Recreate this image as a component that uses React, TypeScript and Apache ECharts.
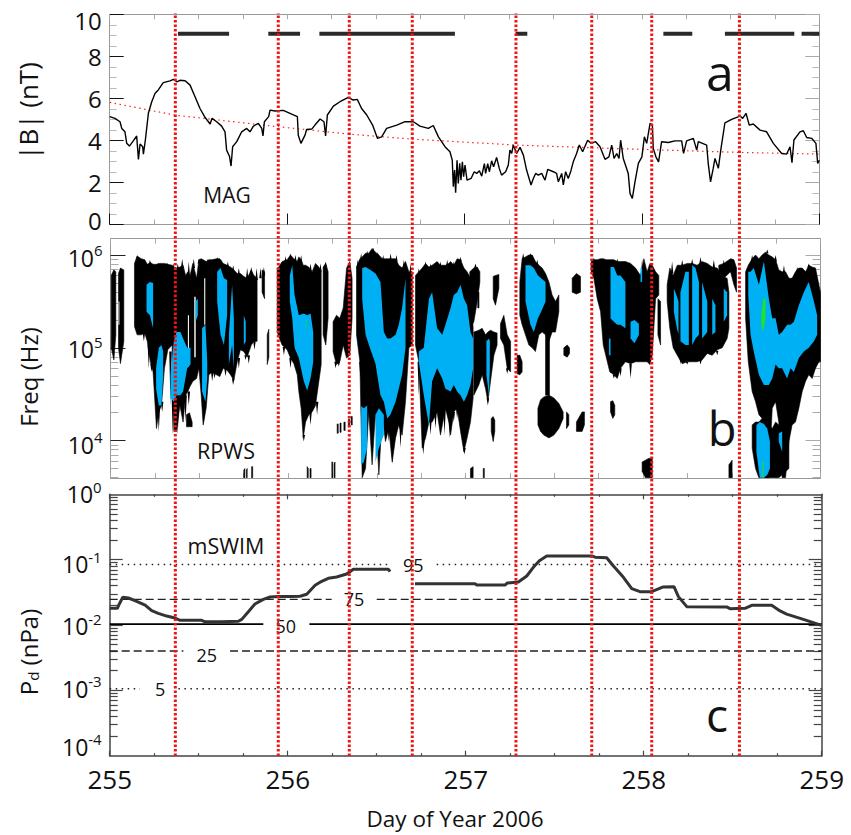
import React, { useEffect, useRef } from "react";
import * as echarts from "echarts";

const FONT = "'Open Sans', 'Noto Sans', sans-serif";

// ---------- panel a: MAG |B| (nT) ----------
const magDays = [255,255.03,255.058,255.068,255.086,255.096,255.111,255.13,255.152,255.162,255.171,255.186,255.19,255.201,255.218,255.237,255.256,255.274,255.302,255.34,255.359,255.378,255.396,255.425,255.453,255.481,255.509,255.537,255.566,255.577,255.603,255.631,255.65,255.659,255.675,255.684,255.693,255.716,255.744,255.772,255.791,255.81,255.838,255.857,255.864,255.872,255.896,255.904,255.932,255.979,256.016,256.058,256.063,256.078,256.101,256.11,256.139,256.157,256.186,256.208,256.217,256.227,256.261,256.298,256.345,256.373,256.396,256.42,256.449,256.482,256.509,256.533,256.561,256.618,256.665,256.712,256.749,256.796,256.824,256.853,
  256.89,256.918,256.931,256.937,256.944,256.95,256.958,256.965,256.973,256.98,256.988,256.995,257.003,257.014,257.037,257.055,257.069,257.084,257.097,257.112,257.119,257.131,257.14,257.153,257.164,257.181,257.196,257.209,257.232,257.247,257.256,257.266,257.275,257.294,257.313,257.332,257.35,257.375,257.388,257.401,257.416,257.435,257.454,257.469,257.501,257.519,257.529,257.548,257.557,257.57,257.585,257.6,257.613,257.632,257.647,257.666,257.694,257.713,257.739,257.764,257.792,257.814,257.83,257.843,257.858,257.871,257.88,257.895,257.923,257.933,257.946,257.961,257.98,258,258.014,
  258.027,258.046,258.059,258.064,258.079,258.094,258.111,258.149,258.186,258.224,258.235,258.252,258.29,258.309,258.318,258.365,258.374,258.387,258.402,258.412,258.431,258.446,258.468,258.506,258.553,258.568,258.587,258.605,258.628,258.666,258.703,258.741,258.788,258.816,258.835,258.846,258.857,258.891,258.91,258.929,258.957,258.981,258.991,259];
const magValues = [5.13,5.05,4.89,4.57,4.41,3.86,3.73,3.94,4.21,3.1,3.83,3.7,3.35,4.02,5.29,5.84,6.24,6.4,6.75,6.83,6.9,6.79,6.86,6.84,6.63,6.08,5.52,5.1,4.78,5.05,4.89,4.68,4.41,3.54,3.25,2.78,3.7,3.94,4.41,4.57,4.41,4.68,4.81,4.57,4.21,4.89,5.13,5.44,5.4,5.43,5.29,5.13,4.25,3.86,4.25,4.52,4.54,4.73,5.02,4.89,4.21,5.21,5.63,5.84,6.05,5.92,5.95,5.52,5.21,4.73,4.1,4.17,4.57,4.73,4.89,4.89,4.68,4.57,4.71,4.17,
  3.7,3.46,3.06,1.8,2.59,1.51,3.06,1.95,2.91,2.11,2.98,2.27,2.83,2.11,2.19,2.51,2.43,2.56,2.3,2.9,2.43,2.9,2.51,3.03,2.75,3.19,2.67,2.35,2.51,2.83,3.54,3.38,3.78,3.38,3.67,3.3,2.59,1.88,2.19,2.43,2.35,2.43,2.11,2.62,2.51,2.43,2.03,2.43,1.88,2.51,2.19,2.56,2.98,3.38,3.78,3.46,4.01,3.86,3.94,3.7,3.1,3.22,3.78,3.14,3.38,3.14,4.01,3.14,2.43,1.48,1.24,2.03,2.91,3.22,4.17,
  3.86,4.81,4.73,3.62,3.22,2.98,3.94,3.9,3.98,3.98,3.38,3.98,4.1,3.54,3.94,3.78,2.9,2.03,2.67,3.14,2.67,3.62,4.84,5,5.16,5.05,5.29,4.73,4.78,4.49,4.41,3.86,3.38,3.35,3.7,2.94,4.02,4.41,4.46,4.14,4.1,3.86,2.9,3.06];
const trendDays = [255,255.37,255.951,256.351,256.706,257.29,257.717,258.055,258.549,259];
const trendValues = [5.81,5.2,4.65,4.3,4.06,3.78,3.65,3.56,3.43,3.35];
const coverageLevel = 9.08;
const coverageSpans = [[255.385,255.673],[255.894,256.073],[256.182,256.946],[257.288,257.354],[258.121,258.284],[258.468,258.859],[258.9,259]];
const magLabels = [0,2,4,6,8,10];

// ---------- panel c: mSWIM Pd (nPa) ----------
const pdDays = [255,255.043,255.054,255.073,255.105,255.142,255.199,255.236,255.273,255.32,255.367,255.395,255.517,255.536,255.629,255.723,255.742,255.779,255.816,255.863,255.901,255.948,256.022,256.069,256.107,256.154,256.191,256.228,256.275,256.331,256.369,256.566,256.575,256.64,256.715,256.743,257.052,257.062,257.221,257.234,257.296,257.343,257.38,257.414,257.455,257.708,257.727,257.792,257.83,257.886,257.933,257.979,258.045,258.11,258.17,258.195,258.242,258.466,258.485,258.569,258.607,258.719,258.766,258.803,258.897,259];
const pdValues = [0.018,0.018,0.021,0.0265,0.0259,0.0236,0.0202,0.0166,0.0151,0.0137,0.0128,0.0118,0.0118,0.0112,0.0112,0.0114,0.0122,0.016,0.021,0.0247,0.0268,0.0272,0.0272,0.0275,0.0295,0.0405,0.0466,0.0518,0.0543,0.0604,0.0711,0.0711,0.0655,null,0.0429,0.0429,0.0429,0.0409,0.0409,0.044,0.0455,0.0562,0.0763,0.0965,0.114,0.114,0.109,0.107,0.08,0.0537,0.036,0.0324,0.0324,0.0382,0.0386,0.0272,0.0191,0.0189,0.0178,0.018,0.02,0.02,0.0164,0.0147,0.0122,0.00988];
const percentileNames = ["95","75","50","25","5"];
const percentileValues = [0.084,0.0247,0.0103,0.004,0.00106];
const percentileGaps = [[256.584,256.837],[256.247,256.5],[255.863,256.122],[255.414,255.676],[255.17,255.386]];
const percentileLabelDays = [256.706,256.373,255.989,255.545,255.283];
const percentileLabelValues = [0.084,0.0247,0.0097,0.0035,0.00106];

// ---------- shared ----------
const eventDays = [255.368,255.948,256.348,256.703,257.287,257.714,258.052,258.546];

// ---------- panel b: RPWS spectrogram outlines, [day, log10 upper Hz, log10 lower Hz] ----------
const blackBands: number[][][] = [
  [[255.004,5.78,5.0],[255.019,5.84,4.87],[255.03,5.82,5.14]],
  [[255.045,5.8,5.0],[255.056,5.86,4.83],[255.075,5.84,5.07]],
  [[255.135,5.91,5.23],[255.15,5.99,5.14],[255.173,5.96,5.14],[255.193,5.95,5.16],[255.207,5.9,5.07],[255.225,5.92,4.85],[255.24,5.9,4.74],[255.259,5.9,4.13],[255.272,5.91,4.31],[255.287,5.91,4.38],[255.304,5.91,4.78],[255.323,5.9,4.98],[255.347,5.89,5.03],[255.357,5.87,4.1],[255.372,5.86,4.1],[255.391,5.87,4.38],[255.409,5.89,4.2],[255.423,5.78,4.49],[255.436,5.82,4.53],[255.447,5.77,4.58],[255.464,5.91,4.64],[255.485,5.75,4.67],[255.498,5.95,4.78],[255.511,5.96,4.49],[255.522,5.95,4.17],[255.539,5.93,4.35],[255.554,5.95,4.71],[255.573,5.95,4.74],[255.597,5.96,4.71],[255.616,5.96,4.69],[255.635,5.91,4.78],[255.657,5.89,4.76],[255.676,5.87,4.71],[255.695,5.84,4.65],[255.714,5.8,4.85],[255.732,5.8,4.98],[255.751,5.77,4.96],[255.77,5.75,4.9],[255.793,5.84,5.03],[255.808,5.78,5.07],[255.826,5.75,5.07]],
  [[255.854,5.84,5.6],[255.868,5.82,5.53]],
  [[255.883,5.14,4.82],[255.892,5.2,4.9]],
  [[255.428,4.28,4.15],[255.445,4.3,4.15],[255.46,4.2,4.15]],
  [[255.751,3.68,3.6],[255.757,3.7,3.6]],[[255.766,3.68,3.6],[255.77,3.7,3.6]],[[255.795,3.72,3.6],[255.801,3.72,3.6]],
  [[255.939,5.86,5.17],[255.948,5.87,5.12],[255.967,5.93,5.03],[255.995,5.95,4.98],[256.014,6.0,4.89],[256.033,5.96,4.83],[256.052,5.93,4.71],[256.061,5.98,4.53],[256.074,5.95,4.35],[256.086,5.89,4.03],[256.099,5.89,4.2],[256.117,5.87,4.28],[256.136,5.82,4.31],[256.155,5.91,4.38],[256.174,5.87,4.64],[256.187,5.82,4.82]],
  [[256.198,5.87,5.14],[256.213,5.91,5.03],[256.226,5.82,5.32]],
  [[256.254,5.28,4.96],[256.273,5.35,4.82],[256.292,5.32,4.85],[256.311,5.43,5.03],[256.33,5.86,4.89],[256.348,5.93,4.92],[256.361,5.75,5.32]],
  [[256.108,3.72,3.6],[256.114,3.7,3.6]],[[256.124,3.7,3.6],[256.13,3.7,3.6]],[[256.247,3.77,3.6],[256.252,3.77,3.6]],[[256.26,3.75,3.6],[256.265,3.77,3.6]],
  [[256.277,4.18,4.08],[256.283,4.18,4.08]],[[256.293,4.19,4.09],[256.299,4.19,4.09]],[[256.315,4.2,4.11],[256.322,4.2,4.11]],[[256.34,4.23,4.15],[256.347,4.23,4.15]],[[256.356,4.26,4.17],[256.362,4.26,4.17]],
  [[256.386,5.87,5.14],[256.405,5.96,4.85],[256.418,5.98,3.6],[256.437,6.02,3.7],[256.455,6.02,4.31],[256.474,6.07,3.74],[256.493,6.03,4.31],[256.512,6.0,3.63],[256.531,5.96,4.28],[256.549,5.96,3.99],[256.568,5.96,4.13],[256.587,5.96,3.77],[256.606,5.96,4.03],[256.624,5.89,4.17],[256.643,5.86,4.06],[256.662,5.93,4.42],[256.681,5.82,5.0],[256.7,5.82,5.03]],
  [[256.718,5.78,5.03],[256.737,5.82,4.85],[256.756,5.86,3.92],[256.775,5.91,4.03],[256.794,5.87,4.2],[256.812,5.89,4.2],[256.84,5.93,4.31],[256.859,5.89,4.06],[256.887,5.89,4.35],[256.906,5.91,4.2],[256.916,5.93,4.06],[256.934,5.89,4.31],[256.953,5.96,4.35],[256.972,5.95,4.1],[256.991,5.86,3.88],[257.009,5.82,4.03],[257.028,5.75,4.2],[257.043,5.21,4.46]],
  [[257.024,5.82,5.21],[257.047,5.86,5.28],[257.066,5.87,5.5],[257.081,5.82,5.71]],
  [[257.047,5.17,4.49],[257.075,5.19,4.6],[257.094,5.21,4.71],[257.113,5.14,4.56],[257.126,5.17,4.42],[257.141,5.19,4.64],[257.16,5.17,4.92],[257.178,5.16,5.03]],
  [[257.069,5.6,5.43],[257.076,5.6,5.43]],
  [[257.156,5.77,5.53],[257.169,5.78,5.46],[257.188,5.79,5.64]],
  [[257.197,5.26,5.1],[257.216,5.35,5.03],[257.235,5.14,4.78],[257.254,5.07,4.74]],
  [[257.145,4.24,4.1],[257.156,4.26,3.99],[257.165,4.22,4.1]],
  [[257.028,3.7,3.6],[257.043,3.72,3.6]],[[257.1,3.7,3.6],[257.106,3.7,3.6]],
  [[257.291,4.92,4.72],[257.306,4.92,4.71],[257.319,4.85,4.74]],
  [[257.306,5.71,5.35],[257.319,5.96,5.25],[257.338,5.98,5.14],[257.357,6.0,5.03],[257.376,6.0,5.0],[257.394,5.93,4.96],[257.413,5.89,5.14],[257.432,5.86,5.17],[257.451,5.8,5.14],[257.47,5.71,5.07],[257.488,5.57,5.17],[257.507,5.5,5.17],[257.526,5.57,5.39]],
  [[257.451,5.14,4.49],[257.473,5.14,4.49]],
  [[257.408,4.35,4.17],[257.423,4.44,4.1],[257.441,4.47,4.06],[257.47,4.49,4.03],[257.498,4.46,4.06],[257.526,4.4,4.13],[257.55,4.31,4.24]],
  [[257.569,4.31,4.13],[257.582,4.28,4.17]],
  [[257.625,4.2,4.1],[257.657,4.31,4.1],[257.67,4.31,4.17]],
  [[257.601,5.75,5.6],[257.625,5.8,5.58],[257.648,5.77,5.6]],
  [[257.554,5.0,4.92],[257.573,5.03,4.9],[257.586,5.0,4.94]],
  [[257.817,4.42,4.31],[257.83,4.43,4.24],[257.841,4.38,4.28]],
  [[257.708,5.93,5.82],[257.723,5.95,5.75],[257.742,5.95,5.53],[257.761,5.96,5.39],[257.776,5.96,5.03],[257.794,5.95,4.89],[257.813,5.95,4.74],[257.836,5.95,4.71],[257.855,5.93,4.67],[257.873,5.93,4.78],[257.901,5.93,4.85],[257.93,5.91,4.83],[257.958,5.86,4.85],[257.986,5.78,4.85],[258.005,5.96,4.85],[258.023,5.82,4.85],[258.039,5.91,4.82],[258.052,5.89,4.92],[258.071,5.82,5.53],[258.089,5.78,5.57]],
  [[258.084,5.53,5.14],[258.099,5.5,5.03]],
  [[257.995,3.77,3.67],[258.014,3.79,3.6],[258.033,3.81,3.6],[258.052,3.81,3.6]],
  [[258.136,5.68,5.5],[258.151,5.86,5.21],[258.17,5.78,5.0],[258.193,5.89,4.92],[258.221,5.89,4.83],[258.249,5.91,4.85],[258.277,5.91,4.85],[258.305,5.89,4.85],[258.333,5.93,4.87],[258.362,5.91,4.94],[258.39,5.87,4.92],[258.418,5.86,4.98],[258.446,5.77,5.0],[258.474,5.75,5.1],[258.484,5.6,5.21]],
  [[258.427,5.89,5.82],[258.455,5.91,5.75],[258.493,5.96,5.82],[258.512,5.95,5.68],[258.527,5.86,5.6]],
  [[258.484,3.74,3.6],[258.502,3.79,3.6]],
  [[258.578,5.82,5.32],[258.593,5.89,4.85],[258.615,5.96,4.53],[258.634,6.0,4.42],[258.653,5.96,4.28],[258.671,6.0,4.24],[258.69,6.03,3.6],[258.709,6.0,3.6],[258.728,5.98,4.35],[258.747,5.95,4.42],[258.765,5.84,4.2],[258.784,5.82,3.6],[258.803,5.82,3.6],[258.822,5.75,3.99],[258.84,5.75,4.17],[258.859,5.82,4.2],[258.878,5.86,4.35],[258.897,5.86,4.53],[258.916,5.82,4.64],[258.934,5.89,4.71],[258.953,5.87,4.67],[258.972,5.86,4.78],[258.991,5.68,4.85],[259,5.6,4.85]],
  [[258.615,4.17,3.92],[258.634,4.2,3.7],[258.653,4.2,3.6],[258.671,4.24,3.6],[258.728,4.13,3.6],[258.747,4.2,3.6],[258.765,4.17,3.6],[258.822,4.1,3.7]],
];
// Thin curtains along the edges of the black regions: [day, log10 Hz at the base, log10 Hz at the tip]
const blackSpikes: number[][] = [
  [255.188,5.16,5.07],[255.216,5.03,4.78],[255.231,4.83,4.74],[255.244,4.78,4.71],[255.272,4.35,4.1],[255.291,4.42,4.31],[255.338,4.96,4.38],[255.351,4.49,4.06],[255.379,4.42,4.06],[255.423,4.49,4.2],[255.441,4.53,4.38],[255.526,4.49,4.15],[255.573,4.74,4.64],[255.586,4.74,4.67],[255.648,4.78,4.69],[255.691,4.67,4.6],[255.723,4.89,4.78],[255.761,4.92,4.87],[255.779,4.92,4.83],[255.811,5.07,4.98],
  [255.15,5.93,6.0],[255.165,5.91,5.97],[255.178,5.91,5.96],[255.222,5.89,5.95],[255.263,5.87,5.91],[255.319,5.87,5.92],[255.353,5.86,5.91],[255.379,5.84,5.91],[255.404,5.86,5.96],[255.441,5.77,5.93],[255.469,5.86,5.96],[255.498,5.91,5.96],[255.548,5.89,5.96],[255.578,5.91,5.96],[255.601,5.93,5.98],[255.623,5.91,5.95],[255.661,5.86,5.93],[255.691,5.82,5.89],[255.723,5.78,5.86],[255.77,5.75,5.86],[255.793,5.8,5.87],[255.823,5.73,5.86],[255.845,5.75,5.86],[255.864,5.78,5.87],
  [255.986,5.91,5.99],[256.014,5.96,6.02],[256.042,5.93,6.0],[256.074,5.91,6.0],[256.127,5.82,5.91],[256.183,5.82,5.91],[256.211,5.87,5.93],
  [255.977,5.01,4.92],[256.014,4.89,4.78],[256.089,4.06,3.99],[256.127,4.31,4.17],[256.164,4.42,4.28],[256.268,4.85,4.78],[256.286,4.85,4.8],
  [256.393,5.86,5.95],[256.412,5.93,6.02],[256.446,5.98,6.05],[256.48,6.03,6.08],[256.506,5.98,6.03],[256.536,5.93,6.0],[256.578,5.93,6.02],[256.611,5.93,6.0],[256.653,5.86,5.95],[256.69,5.78,5.91],[256.737,5.77,5.86],[256.775,5.86,5.93],[256.803,5.84,5.91],[256.859,5.86,5.93],[256.897,5.87,5.95],
  [256.408,4.85,4.67],[256.568,4.13,3.99],[256.587,4.06,3.74],[256.634,4.17,3.92],[256.737,4.85,4.49],[256.762,3.99,3.85],[256.803,4.24,4.06],[256.831,4.31,4.13],[256.882,4.35,4.06],[256.912,4.24,4.03],[256.934,4.31,4.2],
  [256.972,5.93,5.98],[256.934,5.87,5.93],[257.056,5.86,5.91],[257.325,5.95,6.02],[257.366,5.98,6.02],[257.404,5.89,5.95],[257.723,5.93,5.97],[257.855,5.91,5.96],[257.995,5.75,5.96],[258.164,5.8,5.93],[258.221,5.87,5.95],[258.277,5.89,5.96],[258.324,5.91,5.98],[258.399,5.86,5.95],[258.455,5.87,5.95],[258.502,5.91,5.96],[258.615,5.93,6.0],[258.7,6.02,6.06],[258.747,5.93,6.0],[258.794,5.8,5.89],[258.869,5.82,5.87],[258.934,5.87,5.91],
  [256.994,3.92,3.85],[256.953,4.35,4.24],[257.126,4.46,4.38],[257.235,4.78,4.72],[257.836,4.71,4.67],[257.873,4.78,4.69],[257.93,4.83,4.67],[258.211,4.92,4.82],[258.249,4.85,4.82],[258.324,4.87,4.82],[258.418,4.97,4.92],
];
const gapBands: number[][][] = [
  [[255.436,5.35,4.8],[255.442,5.35,4.8]],
  [[255.472,5.55,4.9],[255.48,5.55,4.9]],
  [[255.528,5.75,5.25],[255.534,5.75,5.25]],
  [[255.045,5.5,5.25],[255.05,5.5,5.25]],
];
const blueBands: number[][][] = [
  [[255.203,5.68,5.39],[255.222,5.71,5.35],[255.24,5.7,5.21]],
  [[255.257,4.78,4.56],[255.272,5.0,4.38],[255.287,5.03,4.38],[255.297,4.96,4.71]],
  [[255.338,4.71,4.46],[255.357,5.07,4.42],[255.372,5.17,4.49],[255.394,5.17,4.49],[255.409,5.1,4.53],[255.432,5.0,4.78],[255.451,5.0,4.82]],
  [[255.479,5.5,5.28],[255.492,5.53,5.35]],
  [[255.516,5.21,4.53],[255.535,5.25,4.42],[255.545,4.85,4.67]],
  [[255.601,5.82,5.5],[255.62,5.86,5.14],[255.639,5.75,5.03],[255.657,5.73,5.35]],
  [[255.667,5.14,4.82],[255.685,5.68,5.03],[255.695,5.32,4.78]],
  [[255.751,5.35,5.03],[255.762,5.28,5.07]],
  [[256.01,5.78,5.5],[256.024,5.89,5.32],[256.037,5.57,5.0],[256.061,5.35,4.89],[256.089,5.37,4.64],[256.108,5.35,4.54],[256.127,5.37,4.67],[256.142,5.17,4.85]],
  [[256.418,5.86,5.53],[256.437,5.87,5.14],[256.465,5.84,4.98],[256.493,5.8,4.83],[256.521,5.71,4.49],[256.54,5.17,4.42],[256.559,5.1,4.24],[256.577,5.1,4.28],[256.606,5.14,4.42],[256.624,5.25,4.56],[256.643,5.43,4.71],[256.662,5.75,5.0]],
  [[256.412,4.37,3.74],[256.427,4.35,3.77],[256.446,4.38,3.92]],
  [[256.493,4.28,3.77],[256.512,4.35,3.92],[256.54,4.28,4.06]],
  [[256.737,4.96,4.85],[256.765,5.0,4.49],[256.794,5.53,4.17],[256.812,5.6,4.64],[256.84,5.21,4.78],[256.869,5.14,4.67],[256.887,5.25,4.56],[256.916,5.43,4.53],[256.934,5.57,4.6],[256.953,5.6,4.53],[256.972,5.68,4.49],[256.991,5.53,4.42],[257.009,5.46,4.49],[257.028,5.17,4.6],[257.043,5.1,4.78]],
  [[257.118,5.07,4.71],[257.132,5.1,4.49],[257.137,5.07,4.78]],
  [[257.338,5.89,5.5],[257.366,5.89,5.25],[257.385,5.86,5.17],[257.408,5.78,5.32],[257.426,5.75,5.39],[257.451,5.71,5.5]],
  [[257.817,5.87,5.32],[257.836,5.87,5.28],[257.855,5.78,5.25],[257.873,5.78,5.25],[257.901,5.71,5.21]],
  [[257.93,5.28,5.1],[257.952,5.3,5.05],[257.977,5.26,5.14]],
  [[257.986,5.86,5.71],[257.995,5.86,5.71]],
  [[257.808,5.1,4.92],[257.817,5.1,4.92]],
  [[258.174,5.64,5.39],[258.192,5.55,5.2],[258.2,5.5,5.15]],
  [[258.211,5.6,5.07],[258.239,5.82,5.03],[258.258,5.82,5.03]],
  [[258.277,5.89,5.03],[258.296,5.86,5.1],[258.315,5.71,5.14]],
  [[258.333,5.71,5.1],[258.362,5.5,5.17]],
  [[258.39,5.53,5.14],[258.408,5.46,5.17]],
  [[258.455,5.64,5.28],[258.474,5.6,5.35]],
  [[258.593,5.82,5.57],[258.606,5.82,5.14],[258.624,5.86,4.96],[258.653,5.68,4.71],[258.681,5.93,4.6],[258.709,5.53,4.6],[258.728,5.32,4.67],[258.747,5.32,4.82],[258.765,5.14,4.78],[258.784,5.17,4.78],[258.812,5.25,4.67],[258.831,5.25,4.78],[258.85,5.28,4.74],[258.878,5.46,4.89],[258.906,5.6,4.96],[258.934,5.71,5.0],[258.963,5.5,5.07],[258.981,5.35,5.14]],
  [[258.639,4.17,3.88],[258.658,4.2,3.6],[258.681,4.18,3.6],[258.7,4.13,3.63],[258.715,3.99,3.7]],
  [[258.765,4.08,3.99],[258.784,4.1,3.88]],
];
const greenBands: number[][][] = [
  [[258.666,5.35,5.25],[258.677,5.53,5.17],[258.69,5.53,5.32]],
  [[258.673,3.77,3.6],[258.679,3.77,3.6]],
  [[256.1,5.3,5.2],[256.104,5.3,5.2]],
];

// ---------- helpers ----------
const logMinors = (from: number, to: number) => {
  const out: number[] = [];
  for (let e = from; e < to; e++) for (let k = 2; k < 10; k++) out.push(k * Math.pow(10, e));
  return out;
};

const spikeBands = blackSpikes.map(([d, base, tip]) => [
  [d - 0.007, base, base],
  [d, Math.max(base, tip), Math.min(base, tip)],
  [d + 0.007, base, base],
]);

const bandSeries = (bands: number[][][], color: string, z: number, stroke: boolean) => ({
  type: "custom",
  xAxisIndex: 2,
  yAxisIndex: 2,
  z,
  silent: true,
  clip: true,
  data: bands.map((b, i) => [b[0][0], Math.pow(10, b[0][1]), i]),
  renderItem: (_: any, api: any) => {
    const band = bands[api.value(2)];
    const upper = band.map((p) => api.coord([p[0], Math.pow(10, p[1])]));
    const lower = band.map((p) => api.coord([p[0], Math.pow(10, p[2])])).reverse();
    return {
      type: "polygon",
      shape: { points: upper.concat(lower) },
      style: { fill: color, stroke: stroke ? color : "none", lineWidth: stroke ? 0.6 : 0 },
    };
  },
});

const supLabel = (value: number) => {
  const e = Math.floor(Math.log10(value) + 1e-6);
  return `{b|10}{s|${e}}`;
};
const richLabel = {
  b: { fontSize: 23, fontFamily: FONT, color: "#111", lineHeight: 30 },
  s: { fontSize: 15, fontFamily: FONT, color: "#111", verticalAlign: "top", lineHeight: 22 },
};

const pairs = (days: number[], values: (number | null)[]) => days.map((d, i) => [d, values[i]]);

export default function App() {
  const ref = useRef<HTMLDivElement>(null);
  useEffect(() => {
    document.body.style.margin = "0";
    const chart = echarts.init(ref.current!, undefined, { renderer: "svg" });

    const grids = [
      { left: 109.7, top: 14.3, width: 709.6, height: 210.2 },
      { left: 110.5, top: 238.7, width: 710, height: 239.3 },
      { left: 109.7, top: 494.3, width: 712, height: 261.4 },
      { left: 110, top: 13, width: 710, height: 743 },
    ];

    const xAx = (gridIndex: number, position: string, opts: any = {}) => ({
      type: "value",
      gridIndex,
      position,
      min: 255,
      max: 259,
      interval: 1,
      axisLine: { onZero: false, lineStyle: { color: "#999", width: 1 } },
      axisTick: { inside: true, length: 5, lineStyle: { color: "#aaa", width: 1 } },
      minorTick: { show: true, splitNumber: 4, length: 5, lineStyle: { color: "#aaa", width: 1 } },
      axisLabel: { show: false },
      splitLine: { show: false },
      minorSplitLine: { show: false },
      ...opts,
    });

    const darkTickX = {
      axisLine: { onZero: false, lineStyle: { color: "#444", width: 1.5 } },
      axisTick: { inside: true, length: 5, lineStyle: { color: "#444", width: 1.2 } },
      minorTick: { show: true, splitNumber: 4, length: 2.5, lineStyle: { color: "#444", width: 1.2 } },
    };

    const xAxis = [
      xAx(0, "bottom", { axisTick: { inside: true, length: 11, lineStyle: { color: "#111", width: 1 } } }),
      xAx(0, "top"),
      xAx(1, "bottom"),
      xAx(1, "top"),
      xAx(2, "bottom", {
        ...darkTickX,
        axisLabel: { show: true, fontSize: 26, fontFamily: FONT, color: "#111", margin: 10, showMinLabel: true, showMaxLabel: true, formatter: (v: number) => String(v) },
      }),
      xAx(2, "top", darkTickX),
      { type: "value", gridIndex: 3, min: 255, max: 259, show: false },
    ];

    const hidden = { show: false };
    const blank = {
      axisLine: { show: false, onZero: false },
      axisLabel: { show: false },
      splitLine: hidden,
      minorSplitLine: hidden,
    };

    // panel a: the extreme labels sit slightly inside the frame, as in the figure
    const magLabelAt = magLabels.map((v) => (v === 0 ? 0.2 : v === 10 ? 9.7 : v));
    const yA = [
      {
        type: "value", gridIndex: 0, position: "left", min: 0, max: 10, interval: 2,
        axisLine: { onZero: false, lineStyle: { color: "#999", width: 1 } },
        axisTick: { inside: true, length: 14, lineStyle: { color: "#111", width: 1 } },
        minorTick: { show: true, splitNumber: 4, length: 7, lineStyle: { color: "#bbb", width: 1 } },
        axisLabel: { show: true, fontSize: 24, fontFamily: FONT, color: "#111", margin: 8, customValues: magLabelAt, formatter: (v: number) => String(Math.round(v)) },
        splitLine: hidden, minorSplitLine: hidden,
      },
      {
        type: "value", gridIndex: 0, position: "right", min: 0, max: 10, interval: 2,
        axisLine: { onZero: false, lineStyle: { color: "#999", width: 1 } },
        axisTick: { inside: true, length: 14, lineStyle: { color: "#aaa", width: 1 } },
        minorTick: { show: true, splitNumber: 4, length: 7, lineStyle: { color: "#bbb", width: 1 } },
        axisLabel: { show: false }, splitLine: hidden, minorSplitLine: hidden,
      },
    ];

    // log panels
    const logAxis = (gridIndex: number, position: string, min: number, max: number, values: number[], length: number, color: string, width: number, label?: any) => ({
      type: "log", logBase: 10, gridIndex, position, min, max,
      ...blank,
      axisTick: { show: true, inside: true, length, customValues: values, lineStyle: { color, width } },
      minorTick: { show: false },
      axisLabel: label || { show: false },
    });

    const bMin = 3960, bMax = 1.5e6;
    const bMajors = [1e4, 1e5, 1e6];
    const bMinors = logMinors(3, 6).filter((v) => v > bMin && v < bMax);
    const yB = [
      {
        ...logAxis(1, "left", bMin, bMax, bMajors, 15, "#222", 1, {
          show: true, margin: 8, customValues: [9000, 97000, 930000],
          formatter: (v: number) => supLabel(v * 1.12), rich: richLabel,
        }),
        axisLine: { show: true, onZero: false, lineStyle: { color: "#999", width: 1 } },
      },
      logAxis(1, "left", bMin, bMax, bMinors, 8, "#aaa", 1),
      {
        ...logAxis(1, "right", bMin, bMax, bMajors, 15, "#aaa", 1),
        axisLine: { show: true, onZero: false, lineStyle: { color: "#999", width: 1 } },
      },
      logAxis(1, "right", bMin, bMax, bMinors, 8, "#aaa", 1),
    ];

    const cMin = 1e-4, cMax = 1;
    const cMajors = [1e-3, 1e-2, 1e-1];
    const cMinors = logMinors(-4, 0);
    const yC = [
      {
        ...logAxis(2, "left", cMin, cMax, cMajors, 13, "#444", 1.2, {
          show: true, margin: 8, customValues: [1, 0.085, 0.0095, 0.00105, 0.000137],
          formatter: (v: number) => supLabel(v * 1.3), rich: richLabel,
        }),
        axisLine: { show: true, onZero: false, lineStyle: { color: "#444", width: 1.5 } },
      },
      logAxis(2, "left", cMin, cMax, cMinors, 8, "#444", 1.2),
      {
        ...logAxis(2, "right", cMin, cMax, cMajors, 13, "#444", 1.2),
        axisLine: { show: true, onZero: false, lineStyle: { color: "#444", width: 1.5 } },
      },
      logAxis(2, "right", cMin, cMax, cMinors, 8, "#444", 1.2),
    ];

    const yOverlay = { type: "value", gridIndex: 3, min: 0, max: 1, show: false };
    // axis order: a=0,1  b=2..5  c=6..9  overlay=10
    const yAxis = [...yA, ...yB, ...yC, yOverlay];

    const coverageData: (number | null)[][] = [];
    coverageSpans.forEach(([a, b]) => {
      coverageData.push([a, coverageLevel], [b, coverageLevel], [b, null]);
    });

    const eventData: (number | null)[][] = [];
    eventDays.forEach((d) => {
      eventData.push([d, 0], [d, 1], [d, null]);
    });

    const percentileStyles = [
      { color: "#222", width: 1.5, type: [1.5, 4.5] },
      { color: "#222", width: 1.3, type: [8, 4] },
      { color: "#000", width: 1.8, type: "solid" },
      { color: "#222", width: 1.3, type: [8, 4] },
      { color: "#222", width: 1.5, type: [1.5, 4.5] },
    ];

    const series: any[] = [
      {
        type: "line", name: "trend", xAxisIndex: 0, yAxisIndex: 0, showSymbol: false, symbol: "none", silent: true,
        data: pairs(trendDays, trendValues),
        lineStyle: { color: "#f22", width: 1.2, type: [1.5, 3.5] }, z: 3,
      },
      {
        type: "line", name: "|B|", xAxisIndex: 0, yAxisIndex: 0, showSymbol: false, symbol: "none", silent: true,
        data: pairs(magDays, magValues),
        lineStyle: { color: "#000", width: 1.4 }, z: 4,
      },
      {
        type: "line", name: "coverage", xAxisIndex: 0, yAxisIndex: 0, showSymbol: false, symbol: "none", silent: true,
        data: coverageData, connectNulls: false,
        lineStyle: { color: "#2a2a2a", width: 4, cap: "butt" }, z: 4,
      },
      bandSeries(blackBands, "#000", 3, true),
      bandSeries(spikeBands, "#000", 3, false),
      bandSeries(gapBands, "#fff", 4, false),
      bandSeries(blueBands, "#00b0f5", 5, false),
      bandSeries(greenBands, "#22e030", 6, false),
      ...percentileNames.map((name, i) => ({
        type: "line", name: `p${name}`, xAxisIndex: 4, yAxisIndex: 6, showSymbol: false, symbol: "none", silent: true,
        data: [[255, percentileValues[i]], [percentileGaps[i][0], percentileValues[i]], [percentileGaps[i][0], null], [percentileGaps[i][1], percentileValues[i]], [259, percentileValues[i]]],
        lineStyle: percentileStyles[i], z: 3,
      })),
      {
        type: "scatter", name: "percentile labels", xAxisIndex: 4, yAxisIndex: 6, symbolSize: 1, silent: true, z: 4,
        itemStyle: { opacity: 0 },
        data: percentileNames.map((n, i) => ({ value: [percentileLabelDays[i], percentileLabelValues[i]], name: n })),
        label: { show: true, position: "inside", formatter: (p: any) => p.name, fontSize: 18, fontFamily: FONT, color: "#111", textBorderWidth: 0, opacity: 1 },
      },
      {
        type: "line", name: "Pd", xAxisIndex: 4, yAxisIndex: 6, showSymbol: false, symbol: "none", silent: true,
        data: pairs(pdDays, pdValues), connectNulls: false,
        lineStyle: { color: "#333", width: 3 }, z: 5,
      },
      {
        type: "line", name: "events", xAxisIndex: 6, yAxisIndex: 10, showSymbol: false, symbol: "none", silent: true,
        data: eventData, connectNulls: false,
        lineStyle: { color: "#f01515", width: 3, type: [2.5, 2] }, z: 20,
      },
    ];

    const txt = (text: string, x: number, y: number, fontSize: number, extra: any = {}) => ({
      type: "text", x, y, z: 30, silent: true,
      style: { text, fontSize, fontFamily: FONT, fill: "#111", align: "center", verticalAlign: "middle", ...extra },
    });
    const vtxt = (text: string, x: number, y: number, fontSize: number, extra: any = {}) => ({
      ...txt(text, 0, 0, fontSize, extra), x, y, rotation: Math.PI / 2,
    });

    chart.setOption({
      animation: false,
      backgroundColor: "#fff",
      grid: grids,
      xAxis,
      yAxis,
      series,
      graphic: [
        vtxt("|B| (nT)", 28, 111, 26),
        vtxt("Freq (Hz)", 28, 377, 24),
        vtxt("{n|P}{s|d}{n| (nPa)}", 28, 652, 24, {
          rich: {
            n: { fontSize: 24, fontFamily: FONT, fill: "#111" },
            s: { fontSize: 15, fontFamily: FONT, fill: "#111", verticalAlign: "bottom" },
          },
        }),
        txt("Day of Year 2006", 455, 818, 22.5),
        txt("MAG", 227, 195, 21),
        txt("RPWS", 226, 450, 21.5),
        txt("mSWIM", 226, 545, 21.5),
        txt("a", 720, 72, 50),
        txt("b", 722, 428, 47),
        txt("c", 717, 714, 46),
      ],
    });
    return () => chart.dispose();
  }, []);
  return <div ref={ref} style={{ position: "absolute", left: 0, top: 0, width: 851, height: 835 }} />;
}
